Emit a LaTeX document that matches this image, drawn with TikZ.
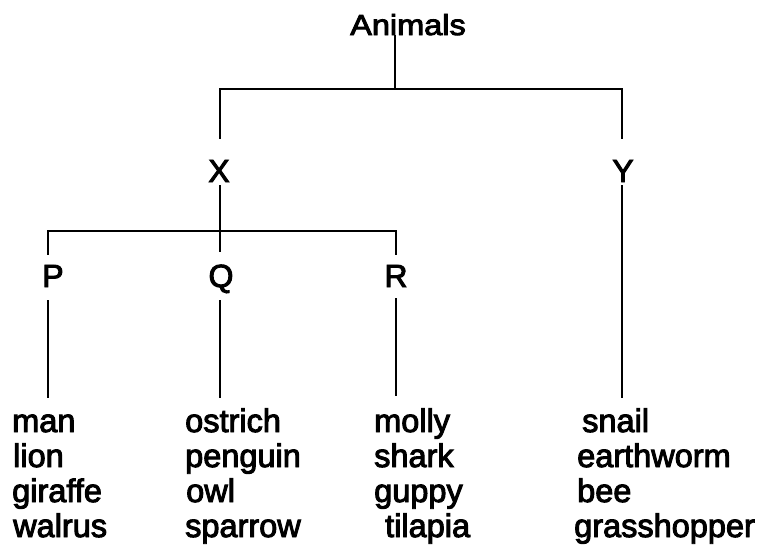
\documentclass[tikz,border=0pt]{standalone}
\usepackage{fontspec}
\setmainfont{Liberation Sans}[FakeBold=3]
\begin{document}
\begin{tikzpicture}[x=1pt,y=-1pt,
  conn/.style={line width=2.8pt, line cap=butt},
  letter/.style={font=\fontsize{32}{36}\selectfont, inner sep=0pt, anchor=base},
  leaf/.style={font=\fontsize{32.5}{36}\selectfont, inner sep=0pt, anchor=base west}]
\useasboundingbox (0,0) rectangle (760,546);

% top
\node[font=\fontsize{29}{32}\selectfont, inner sep=0pt, anchor=base] (animals) at (408,35) {\scalebox{1.12}[1]{Animals}};
\coordinate (h1) at (395,89);
\node[letter] (X) at (219,182) {X};
\node[letter] (Y) at (623,182) {Y};
\coordinate (h2) at (220,231);
\node[letter] (P) at (53,287) {P};
\node[letter] (Q) at (221,287) {Q};
\node[letter] (R) at (396,287) {R};

% leaves
\node[leaf] (man) at (12,432) {man};
\node[leaf] (lion) at (13,467) {lion};
\node[leaf] (giraffe) at (12,502) {giraffe};
\node[leaf] (walrus) at (13,537) {walrus};

\node[leaf] (ostrich) at (185,432) {ostrich};
\node[leaf] (penguin) at (185,467) {penguin};
\node[leaf] (owl) at (186,502) {owl};
\node[leaf] (sparrow) at (185,537) {sparrow};

\node[leaf] (molly) at (374,432) {molly};
\node[leaf] (shark) at (374,467) {shark};
\node[leaf] (guppy) at (374,502) {guppy};
\node[leaf] (tilapia) at (385,537) {tilapia};

\node[leaf] (snail) at (582,432) {snail};
\node[leaf] (earthworm) at (577,467) {earthworm};
\node[leaf] (bee) at (577,502) {bee};
\node[leaf] (grasshopper) at (574,537) {grasshopper};

% connectors
\draw[conn] (animals.south -| h1) -- (h1);
\draw[conn] ([xshift=1pt,yshift=21pt]X.north) |- (h1) -| ([xshift=-1pt,yshift=21pt]Y.north);
\draw[conn] ([xshift=1pt,yshift=-3pt]X.south) -- ([xshift=-1pt,yshift=12pt]Q.north);
\draw[conn] ([xshift=-5pt,yshift=10pt]P.north) |- (h2) -| ([yshift=10pt]R.north);
\draw[conn] ([xshift=-5pt,yshift=-13pt]P.base) -- ([xshift=-5pt,yshift=34pt]P.base |- man.base);
\draw[conn] ([xshift=-1pt,yshift=-13pt]Q.base) -- ([xshift=-1pt,yshift=34pt]Q.base |- ostrich.base);
\draw[conn] ([yshift=-11pt]R.base) -- ([yshift=36pt]R.base |- molly.base);
\draw[conn] ([xshift=-1pt,yshift=-3pt]Y.south) -- ([xshift=-1pt,yshift=34pt]Y.base |- snail.base);
\end{tikzpicture}
\end{document}
